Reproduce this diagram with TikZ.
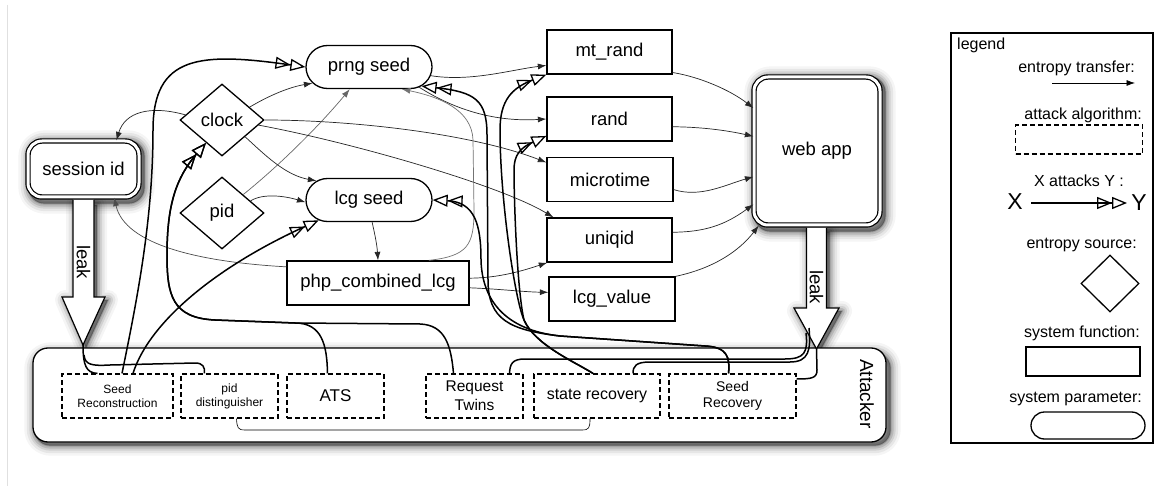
\documentclass[tikz,border=0pt]{standalone}
\usepackage{fontspec}
\setmainfont{Liberation Sans}
\usetikzlibrary{shapes.geometric,shapes.misc,arrows.meta}
\pgfdeclarelayer{bg}
\pgfsetlayers{bg,main}
\begin{document}
\begin{tikzpicture}[x=1pt,y=-1pt,
  font=\fontsize{18.5}{22}\selectfont,
  param/.style={draw,line width=1.3pt,rounded rectangle,fill=white,minimum width=126pt,minimum height=43pt,inner sep=0pt},
  src/.style={draw,line width=1.3pt,diamond,fill=white,minimum width=84pt,minimum height=72pt,inner sep=0pt},
  sysfn/.style={draw,line width=1.3pt,rectangle,fill=white,minimum width=#1,minimum height=44pt,inner sep=0pt},
  dbl/.style={draw,double,double distance=3pt,line width=1.2pt,rounded corners=14pt,fill=white,inner sep=0pt},
  algo/.style={draw,line width=1.2pt,dash pattern=on 5pt off 3pt,minimum height=44pt,inner sep=0pt,align=center,fill=white},
  flow/.style={line width=0.7pt,draw=black!85,-{Latex[length=8.5pt,width=6pt]}},
  atk/.style={line width=1.5pt,-{Triangle[open,length=15pt,width=12pt,line width=1.3pt]Triangle[open,length=15pt,width=12pt,line width=1.3pt]}},
  link/.style={line width=1.5pt},
  leakarrow/.style={draw,line width=1.2pt,fill=white,line join=miter},
  shd/.style={draw=black,draw opacity=#1,line join=round},
  lgtext/.style={font=\fontsize{16}{19}\selectfont,inner sep=0pt}
]
\useasboundingbox (0,0) rectangle (1172,486);
\draw[black!12,line width=1pt] (7,5) -- (7,486);

% attacker box
\node[draw,line width=1.3pt,rounded corners=15pt,fill=white,minimum width=853pt,minimum height=94pt] (attacker) at (459.5,395) {};
\node[rotate=-90,font=\fontsize{19}{22}\selectfont] (attlabel) at (867,394) {Attacker};

% attack algorithms
\node[algo,minimum width=111pt,font=\fontsize{12}{13.5}\selectfont] (SR) at (117.5,396) {Seed\\Reconstruction};
\node[algo,minimum width=97pt,font=\fontsize{12}{14}\selectfont] (pidd) at (229.5,396) {pid\\distinguisher};
\node[algo,minimum width=97pt,font=\fontsize{17}{20}\selectfont] (ATS) at (335.5,396) {ATS};
\node[algo,minimum width=97pt,font=\fontsize{15.5}{19}\selectfont] (RT) at (474.5,396) {Request\\Twins};
\node[algo,minimum width=126pt,font=\fontsize{16}{19}\selectfont] (staterec) at (597,396) {state recovery};
\node[algo,minimum width=127pt,font=\fontsize{14}{16}\selectfont] (seedrec) at (732.5,396) {Seed\\Recovery};

% session id and web app
\node[dbl,minimum width=111pt,minimum height=56pt] (session) at (83.5,169) {session id};
\node[dbl,minimum width=126pt,minimum height=148pt] (webapp) at (817,151) {web app};

% leak arrows
\draw[leakarrow] (73,200) -- (73,297) -- (62,297) -- (83,345) -- (105,297) -- (94,297) -- (94,200);
\node[rotate=-90] (leakL) at (83.5,262) {leak};
\draw[leakarrow] (806.5,228) -- (806.5,308) -- (794,308) -- (816.5,349) -- (839,308) -- (826.5,308) -- (826.5,228);
\node[rotate=-90] (leakR) at (816.5,287) {leak};
\coordinate (ltip) at (83,345);
\coordinate (ltip2) at (84,355);
\coordinate (rtip) at (816.5,349);
\coordinate (rk1) at (809,328);
\coordinate (rk2) at (806,333);

% shadows (background layer)
\begin{pgfonlayer}{bg}
\fill[white] (0,0) rectangle (1172,486);
\foreach \w/\o in {20/0.04,15/0.06,10/0.09,6/0.12,2/0.15} {
  \draw[shd=\o,line width=\w pt,rounded corners=16pt] ([shift={(2,3)}]attacker.south west) rectangle ([shift={(4,5)}]attacker.north east);
  \draw[shd=\o,line width=\w pt,rounded corners=16pt] ([shift={(1,6)}]session.south west) rectangle ([shift={(5,0)}]session.north east);
  \draw[shd=\o,line width=\w pt,rounded corners=16pt] ([shift={(1,6)}]webapp.south west) rectangle ([shift={(5,0)}]webapp.north east);
  \draw[shd=\o,line width=\w pt] (76,205) -- (76,300) -- (65,300) -- (86,348) -- (108,300) -- (97,300) -- (97,205) -- cycle;
  \draw[shd=\o,line width=\w pt] (809.5,232) -- (809.5,311) -- (797,311) -- (819.5,352) -- (842,311) -- (829.5,311) -- (829.5,232) -- cycle;
}
\fill[black,fill opacity=0.4,rounded corners=16pt] ([shift={(2,3)}]attacker.south west) rectangle ([shift={(4,5)}]attacker.north east);
\fill[black,fill opacity=0.4,rounded corners=16pt] ([shift={(1,6)}]session.south west) rectangle ([shift={(5,0)}]session.north east);
\fill[black,fill opacity=0.4,rounded corners=16pt] ([shift={(1,6)}]webapp.south west) rectangle ([shift={(5,0)}]webapp.north east);
\fill[black,fill opacity=0.4] (76,205) -- (76,300) -- (65,300) -- (86,348) -- (108,300) -- (97,300) -- (97,205) -- cycle;
\fill[black,fill opacity=0.4] (809.5,232) -- (809.5,311) -- (797,311) -- (819.5,352) -- (842,311) -- (829.5,311) -- (829.5,232) -- cycle;
\end{pgfonlayer}

% parameters, sources, functions
\node[param] (prng) at (369,67) {prng seed};
\node[param] (lcgseed) at (369,200) {lcg seed};
\node[src] (clock) at (222,120) {clock};
\node[src] (pid) at (222,213) {pid};
\node[sysfn=125pt] (mtrand) at (609.5,52) {mt\_rand};
\node[sysfn=125pt] (rand) at (609.5,119) {rand};
\node[sysfn=126pt] (microtime) at (610,179.5) {microtime};
\node[sysfn=125pt] (uniqid) at (609.5,240) {uniqid};
\node[sysfn=126pt] (lcgvalue) at (612,299) {lcg\_value};
\node[sysfn=182pt] (php) at (378,283) {php\_combined\_lcg};

% entropy transfer
\draw[flow] (clock.25) .. controls (270,95) and (290,87) .. (prng.196);
\draw[flow,draw=black!60] (pid.41) .. controls (280,165) and (320,125) .. (prng.229);
\draw[flow] (pid.23) .. controls (263,193) and (285,196) .. (lcgseed.182);
\draw[flow] (clock.-36) .. controls (265,155) and (285,175) .. (lcgseed.160);
\draw[flow] (clock.172) .. controls (150,105) and (125,112) .. (session.41);
\draw[flow] (clock.east) .. controls (350,120) and (470,133) .. (microtime.165);
\draw[flow] (clock.-8) .. controls (350,142) and (500,185) .. (uniqid.158);
\draw[flow] (prng.-8) .. controls (470,82) and (510,70) .. (mtrand.192);
\draw[flow] (prng.-22) .. controls (455,110) and (495,122) .. (rand.180);
\draw[flow,draw=black!55] (php.24) .. controls (468,256) and (474,245) .. (474,210) -- (473,140) .. controls (472,110) and (440,97) .. (prng.-34);
\draw[flow] (lcgseed.-82) .. controls (375,235) and (377,245) .. (php.north);
\draw[flow,draw=black!70] (php.170) .. controls (200,262) and (125,245) .. (session.-43);
\draw[flow] (php.3) .. controls (500,278) and (525,270) .. (uniqid.200);
\draw[flow] (php.-3) .. controls (500,289) and (525,292) .. (lcgvalue.174);
\draw[flow] (mtrand.-18) .. controls (700,77) and (730,90) .. (webapp.146);
\draw[flow] (rand.-7) .. controls (700,127) and (725,130) .. (webapp.167);
\draw[flow] (microtime.-9) .. controls (700,198) and (725,185) .. (webapp.202);
\draw[flow] (uniqid.7) .. controls (705,232) and (725,225) .. (webapp.220);
\draw[flow] (lcgvalue.north east) .. controls (715,268) and (740,250) .. (webapp.232);

% attacks
\draw[atk] ([xshift=4.5pt]SR.north) .. controls (137,300) and (153,220) .. (153,130) .. controls (153,55) and (200,52) .. (prng.west);
\draw[atk] ([xshift=15.5pt]SR.north) .. controls (150,320) and (220,265) .. (lcgseed.202);
\draw[atk] ([xshift=-8pt]ATS.north) .. controls (327,345) and (322,323) .. (295,323) -- (215,320) .. controls (172,318) and (167,295) .. (167,255) .. controls (167,205) and (176,178) .. (clock.235);
\draw[atk] ([xshift=-21pt]RT.north) .. controls (451,345) and (445,325) .. (420,324) -- (295,323) -- (215,320) .. controls (172,318) and (167,295) .. (167,255) .. controls (167,205) and (176,178) .. (clock.235);
\draw[atk] ([xshift=-4pt]seedrec.north) .. controls (730,358) and (728,347) .. (705,346) -- (560,336) .. controls (510,330) and (488,320) .. (488,280) -- (487,135) .. controls (487,100) and (475,92) .. (prng.-20);
\draw[atk] ([xshift=-4pt]seedrec.north) .. controls (730,358) and (728,347) .. (705,346) -- (560,336) .. controls (505,330) and (482,300) .. (481,260) .. controls (481,225) and (475,202) .. (lcgseed.east);
\draw[atk] ([xshift=-4pt]staterec.north) .. controls (575,362) and (535,345) .. (524,320) .. controls (515,300) and (500,200) .. (500,130) .. controls (500,100) and (512,88) .. (mtrand.south west);
\draw[atk] ([xshift=-4pt]staterec.north) .. controls (575,362) and (535,345) .. (524,320) .. controls (517,290) and (514,200) .. (514,170) .. controls (514,155) and (520,148) .. (rand.195);

% leak links
\draw[link] (ltip) .. controls (83,365) and (86,373) .. ([xshift=-20pt]SR.north);
\draw[link] (ltip2) .. controls (85,365) and (92,366) .. (110,365) -- (195,363) .. controls (203,363) and (205,367) .. ([xshift=-25pt]pidd.north);
\draw[link] (rtip) -- (817,370) .. controls (817,378) and (812,379) .. ([yshift=17pt]seedrec.east);
\draw[link] (rk1) .. controls (811,350) and (809,362) .. (790,362) -- (650,362) .. controls (636,362) and (633,366) .. ([xshift=36pt]staterec.north);
\draw[link] (rk2) .. controls (808,352) and (805,359) .. (785,359) -- (525,359) .. controls (512,359) and (510,364) .. ([xshift=35pt]RT.north);

% bracket
\draw[line width=0.6pt] ([xshift=7pt]pidd.south) .. controls (237,428) and (238,430) .. (245,430) -- (582,430) .. controls (589,430) and (590,428) .. ([xshift=-7pt]staterec.south);

% legend
\node[draw,line width=1.2pt,minimum width=202pt,minimum height=410pt,inner sep=0pt] (legendbox) at (1052,238) {};
\node[lgtext,anchor=base west] (lgtitle) at (957,50) {legend};
\node[lgtext,anchor=base east] (lg1) at (1135,73) {entropy transfer:};
\coordinate (lgA1) at (1052,83);
\coordinate (lgA2) at (1135,83);
\draw[flow,draw=black] (lgA1) -- (lgA2);
\node[lgtext,anchor=base east] (lg2) at (1142,120) {attack algorithm:};
\node[algo,minimum width=127pt,minimum height=29pt] (lgalgo) at (1079,139.5) {};
\node[lgtext,anchor=base] (lg3) at (1079,187) {X attacks Y :};
\node[anchor=base,inner sep=0pt,font=\fontsize{23}{26}\selectfont] (lgX) at (1015,210) {X};
\node[anchor=base,inner sep=0pt,font=\fontsize{23}{26}\selectfont] (lgY) at (1139,211) {Y};
\coordinate (lgB1) at (1031,203);
\coordinate (lgB2) at (1127,203);
\draw[atk,line width=1.1pt] (lgB1) -- (lgB2);
\node[lgtext,anchor=base east] (lg4) at (1137,249) {entropy source:};
\node[src,minimum width=58pt,minimum height=57pt] (lgsrc) at (1110,283.5) {};
\node[lgtext,anchor=base east] (lg5) at (1140,337) {system function:};
\node[sysfn=114pt,minimum height=29pt] (lgfn) at (1083,361.5) {};
\node[lgtext,anchor=base east] (lg6) at (1142,402) {system parameter:};
\node[param,minimum width=114pt,minimum height=27pt] (lgparam) at (1088,425.5) {};
\end{tikzpicture}
\end{document}
